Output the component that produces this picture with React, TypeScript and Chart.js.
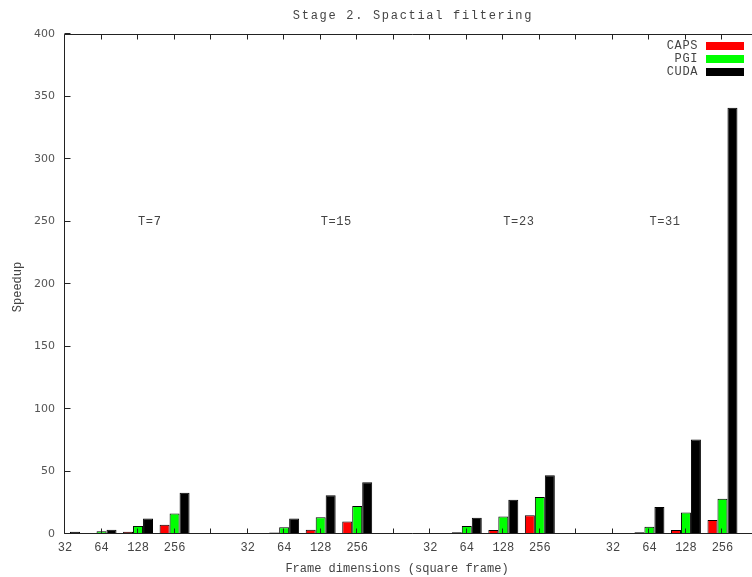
import React, { useEffect, useRef } from 'react';
import { Chart, registerables } from 'chart.js';

Chart.register(...registerables);

// ---- data ----
const sizeLabels = ['32', '64', '128', '256', ''];
const groupNames = ['T=7', 'T=15', 'T=23', 'T=31'];
const categories = groupNames.flatMap(() => sizeLabels);

const capsValues = [0.3, 0.5, 1.8, 7.5, 0.3, 0.3, 1.2, 3.5, 10, 0.3, 0.3, 1.5, 3.2, 15, 0.3, 0.3, 1.4, 3.2, 11.2, 0.3];
const pgiValues = [0.3, 2.2, 6.5, 16.5, 0.3, 0.4, 5.5, 13.5, 22.5, 0.3, 0.5, 6.5, 14, 29.6, 0.3, 0.4, 5.9, 17.3, 28.3, 0.3];
const cudaValues = [1.8, 3.5, 12.5, 33, 0.3, 0.8, 12.5, 31, 41.5, 0.3, 0.8, 13, 27.5, 47, 0.3, 0.6, 21.6, 75.7, 341, 0.3];

const seriesNames = ['CAPS', 'PGI', 'CUDA'];
const seriesColors = ['#ff0000', '#00ff00', '#000000'];

const yMin = 0;
const yMax = 400;
const yStep = 50;

const groupLabelSlots = [2, 7, 12, 16];
const groupLabelValue = 250;

const titleText = 'Stage 2. Spactial filtering';
const xTitleText = 'Frame dimensions (square frame)';
const yTitleText = 'Speedup';

const MONO = "'Liberation Mono', 'DejaVu Sans Mono', monospace";
const TEXT_COLOR = '#444';
const CANVAS_W = 766;
const CANVAS_H = 577;

const gnuPlugin = {
  id: 'gnuStyle',
  afterDatasetsDraw(chart: any) {
    const { ctx, chartArea, scales } = chart;
    const xs = scales.x;
    const ys = scales.y;
    const L = Math.floor(chartArea.left) - 0.5;
    const T = Math.floor(chartArea.top) + 0.5;
    const B = Math.floor(chartArea.bottom) - 0.5;
    const R = chartArea.right + 2;
    ctx.save();
    ctx.strokeStyle = '#222';
    ctx.lineWidth = 1;
    ctx.beginPath();
    ctx.moveTo(L, T);
    ctx.lineTo(R, T);
    ctx.moveTo(L, T);
    ctx.lineTo(L, B);
    ctx.lineTo(R, B);
    for (let v = yMin; v <= yMax; v += yStep) {
      const py = Math.round(ys.getPixelForValue(v)) - 0.5;
      ctx.moveTo(L, py);
      ctx.lineTo(L + 6, py);
    }
    for (let i = 0; i < categories.length; i++) {
      const px = Math.round(xs.getPixelForValue(i)) - 0.5;
      ctx.moveTo(px, T);
      ctx.lineTo(px, T + 5);
      ctx.moveTo(px, B);
      ctx.lineTo(px, B - 5);
    }
    ctx.stroke();
    ctx.restore();
  },
  afterDraw(chart: any) {
    const { ctx, chartArea, scales } = chart;
    const xs = scales.x;
    const ys = scales.y;
    ctx.save();
    ctx.fillStyle = TEXT_COLOR;
    ctx.font = `12px ${MONO}`;
    ctx.textBaseline = 'middle';
    try { (ctx as any).letterSpacing = '0.6px'; } catch (e) {}

    ctx.textAlign = 'left';
    groupLabelSlots.forEach((slot, i) => {
      ctx.fillText(groupNames[i], xs.getPixelForValue(slot), ys.getPixelForValue(groupLabelValue));
    });

    const ds = chart.data.datasets;
    ds.forEach((d: any, i: number) => {
      const yy = chartArea.top + 12 + i * 13;
      ctx.fillStyle = TEXT_COLOR;
      ctx.textAlign = 'right';
      ctx.fillText(d.label, 698, yy);
      ctx.fillStyle = d.backgroundColor;
      ctx.fillRect(706, yy - 4, 38, 8);
    });

    ctx.fillStyle = TEXT_COLOR;
    ctx.textAlign = 'center';
    try { (ctx as any).letterSpacing = '0px'; } catch (e) {}
    ctx.fillText(xTitleText, 397, 569);

    ctx.save();
    ctx.translate(18, 287);
    ctx.rotate(-Math.PI / 2);
    ctx.fillText(yTitleText, 0, 0);
    ctx.restore();

    try { (ctx as any).letterSpacing = '1.7px'; } catch (e) {}
    ctx.fillText(titleText, 413, 16);
    ctx.restore();
  },
};

export default function App() {
  const canvasRef = useRef<HTMLCanvasElement | null>(null);

  useEffect(() => {
    const canvas = canvasRef.current;
    if (!canvas) return;
    const values = [capsValues, pgiValues, cudaValues];
    const chart = new Chart(canvas, {
      type: 'bar',
      data: {
        labels: categories,
        datasets: seriesNames.map((name, i) => ({
          label: name,
          data: values[i],
          backgroundColor: seriesColors[i],
          borderColor: '#000',
          borderWidth: 1,
          categoryPercentage: 0.82,
          barPercentage: 1,
        })),
      },
      options: {
        responsive: false,
        maintainAspectRatio: false,
        animation: false,
        devicePixelRatio: 1,
        layout: { padding: { top: 34, left: 0, right: 0, bottom: 0 } },
        plugins: {
          legend: { display: false },
          title: { display: false },
          tooltip: { enabled: false },
        },
        scales: {
          x: {
            type: 'category',
            offset: false,
            grid: { display: false, drawTicks: false },
            border: { display: false },
            ticks: {
              autoSkip: false,
              maxRotation: 0,
              minRotation: 0,
              padding: 7,
              color: TEXT_COLOR,
              font: { family: MONO, size: 12 },
            },
            afterFit: (scale: any) => { scale.height = 43; },
          },
          y: {
            min: yMin,
            max: yMax,
            grid: { display: false, drawTicks: false },
            border: { display: false },
            ticks: {
              stepSize: yStep,
              padding: 10,
              color: '#555',
              font: { family: "'DejaVu Sans', sans-serif", size: 11 },
            },
            afterFit: (scale: any) => { scale.width = 65; },
          },
        },
      },
      plugins: [gnuPlugin],
    });
    return () => chart.destroy();
  }, []);

  return (
    <div style={{ position: 'absolute', left: 0, top: 0, width: 752, height: CANVAS_H, overflow: 'hidden', background: '#fff' }}>
      <div style={{ width: CANVAS_W, height: CANVAS_H }}>
        <canvas
          ref={canvasRef}
          width={CANVAS_W}
          height={CANVAS_H}
          style={{ display: 'block', width: CANVAS_W, height: CANVAS_H }}
        />
      </div>
    </div>
  );
}
